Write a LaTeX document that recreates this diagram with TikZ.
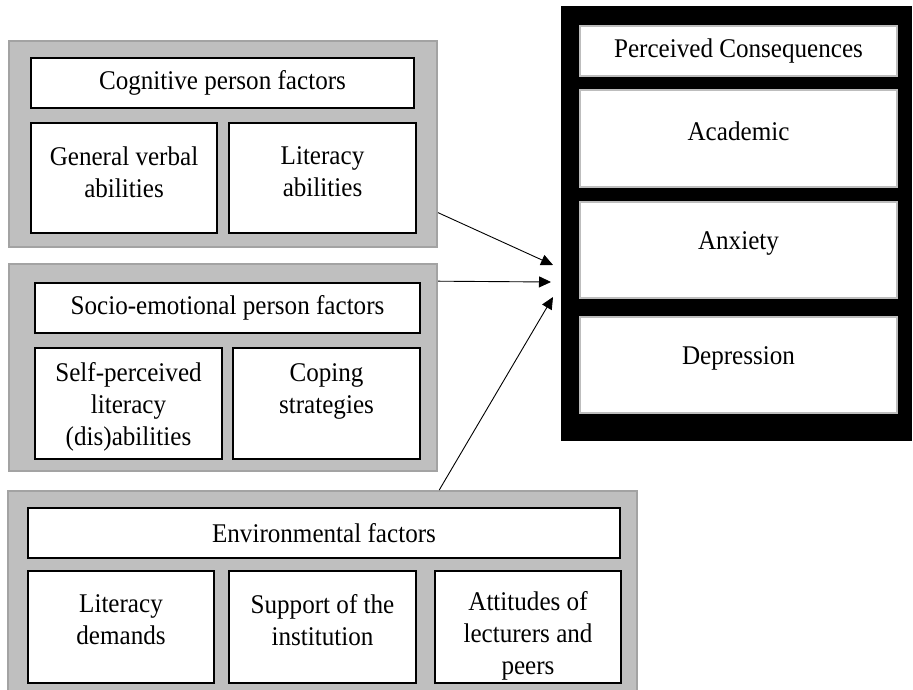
\documentclass[tikz,border=0pt]{standalone}
\usepackage{fontspec}
\setmainfont[FakeStretch=0.93]{Liberation Serif}
\usetikzlibrary{arrows.meta,calc}
\definecolor{gfill}{HTML}{BFBFBF}
\definecolor{gborder}{HTML}{A3A3A3}
\definecolor{pgray}{HTML}{BDBDBD}
\tikzset{
  gbox/.style={rectangle, draw=gborder, fill=gfill, line width=2pt, inner sep=0pt},
  wbox/.style={rectangle, draw=black, fill=white, line width=1.6pt, inner sep=0pt},
  pbox/.style={rectangle, draw=pgray, fill=white, line width=1.6pt, inner sep=0pt},
  blkbox/.style={rectangle, draw=black, fill=black, line width=1pt, inner sep=0pt},
  txt/.style={inner sep=0pt, align=center, font={\fontsize{27}{32}\selectfont}},
  conn/.style={draw=black, line width=0.9pt, -{Triangle[length=12pt,width=11pt]}}
}
\begin{document}
\begin{tikzpicture}[x=1pt,y=-1pt]
\useasboundingbox (0,0) rectangle (913,690);
% left group boxes
\node[gbox, minimum width=428pt, minimum height=206pt] (cog) at (223,144) {};
\node[gbox, minimum width=428pt, minimum height=207pt] (soc) at (223,367.5) {};
\node[gbox, minimum width=629pt, minimum height=200pt] (env) at (322.5,591) {};
% consequences box
\node[blkbox, minimum width=350pt, minimum height=433pt] (blk) at (736,223.5) {};
% cognitive
\node[wbox, minimum width=383pt, minimum height=50pt, txt] (cogT) at (222.5,83) {Cognitive person factors};
\node[wbox, minimum width=186pt, minimum height=110pt] (cogA) at (124,178) {};
\node[wbox, minimum width=187pt, minimum height=110pt] (cogB) at (322.5,178) {};
\node[txt] (cogAt) at (124,172) {General verbal\\abilities};
\node[txt] (cogBt) at (322.5,172) {Literacy\\abilities};
% socio-emotional
\node[wbox, minimum width=385pt, minimum height=50pt, txt] (socT) at (227.5,308) {Socio-emotional person factors};
\node[wbox, minimum width=187pt, minimum height=111pt] (socA) at (128.5,403.5) {};
\node[wbox, minimum width=187pt, minimum height=111pt] (socB) at (326.5,403.5) {};
\node[txt] (socAt) at (128.5,407) {Self-perceived\\literacy\\(dis)abilities};
\node[txt] (socBt) at (326.5,391) {Coping\\strategies};
% environmental
\node[wbox, minimum width=592pt, minimum height=50pt, txt] (envT) at (324,533) {Environmental factors};
\node[wbox, minimum width=186pt, minimum height=112pt] (envA) at (121,627) {};
\node[wbox, minimum width=187pt, minimum height=112pt] (envB) at (322.5,627) {};
\node[wbox, minimum width=186pt, minimum height=112pt] (envC) at (528,627) {};
\node[txt] (envAt) at (121,620) {Literacy\\demands};
\node[txt] (envBt) at (322.5,620) {Support of the\\institution};
\node[txt] (envCt) at (528,636) {Attitudes of\\lecturers and\\peers};
% consequences
\node[pbox, minimum width=317pt, minimum height=50pt, txt] (pcT) at (738.5,51) {Perceived Consequences};
\node[pbox, minimum width=317pt, minimum height=97pt] (pcA) at (738.5,138.5) {};
\node[pbox, minimum width=317pt, minimum height=96pt] (pcB) at (738.5,250) {};
\node[pbox, minimum width=317pt, minimum height=96pt] (pcC) at (738.5,365) {};
\node[txt] (pcAt) at (738.5,131) {Academic};
\node[txt] (pcBt) at (738.5,243) {Anxiety};
\node[txt] (pcCt) at (738.5,358) {Depression};
% arrow tips
\coordinate (tip1) at (553,265);
\coordinate (tip2) at (551,282);
\coordinate (tip3) at (553,297);
\draw[conn] ($(cog.north east)!0.83!(cog.south east)$) -- (tip1);
\draw[conn] ($(soc.north east)!0.087!(soc.south east)$) -- (tip2);
\draw[conn] ($(env.north west)!0.685!(env.north east)$) -- (tip3);
\end{tikzpicture}
\end{document}
